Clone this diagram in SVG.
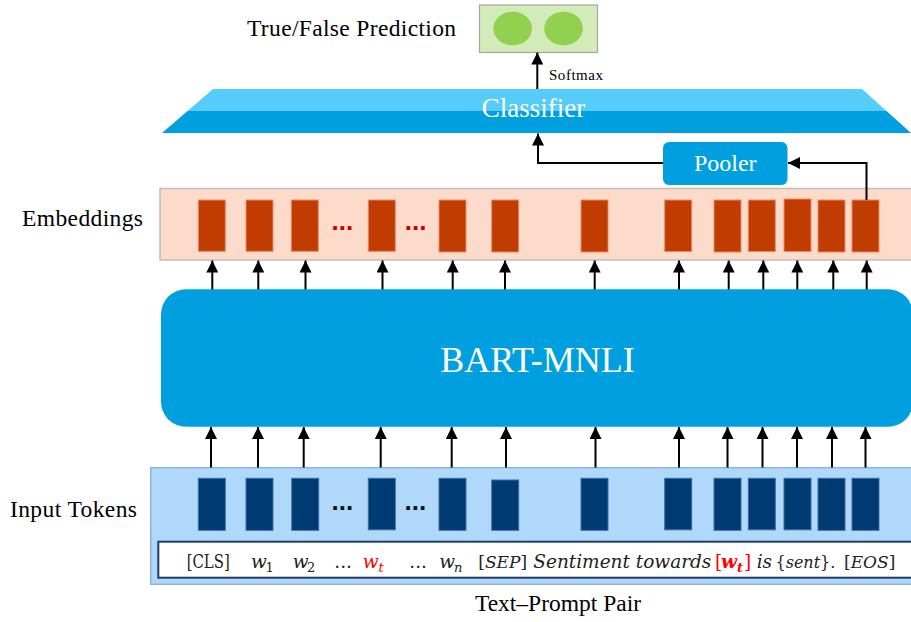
<svg xmlns="http://www.w3.org/2000/svg" width="911" height="622" viewBox="0 0 911 622">
  <style>
    .lbl { font-family: "Liberation Serif", "Times New Roman", serif; font-size: 23.5px; fill: #000; }
    .wlbl { font-family: "Liberation Serif", "Times New Roman", serif; fill: #fff; }
    .emb { fill: #C03C00; stroke: #E98A68; stroke-width: 1; }
    .tok { fill: #003A72; stroke: #3A6EA5; stroke-width: 1; }
    .conn { stroke: #000; stroke-width: 2; fill: none; }
    .math { font-family: "DejaVu Serif", "Liberation Serif", serif; font-size: 18.5px; fill: #222; }
    .sm { font-size: 17px; }
    .xs { font-size: 16px; }
    .it { font-style: italic; }
    .sub { font-size: 13px; }
    .red { fill: #FF0000; }
    .dotsr { font-family: "Liberation Sans", Arial, sans-serif; font-weight: bold; font-size: 26px; fill: #C00000; }
    .dotsk { font-family: "Liberation Sans", Arial, sans-serif; font-weight: bold; font-size: 26px; fill: #111; }
  </style>
  <defs>
    <marker id="ah" markerWidth="12" markerHeight="12" refX="12" refY="6" orient="auto" markerUnits="userSpaceOnUse">
      <path d="M0,0 L12,6 L0,12 z" fill="#000"/>
    </marker>
  </defs>

  <rect width="911" height="622" fill="#fff"/>

  <!-- output layer -->
  <g id="prediction">
    <rect x="479.5" y="5" width="118" height="47.5" fill="#D3EBB8" stroke="#A6A6A6" stroke-width="1.2"/>
    <ellipse cx="512.7" cy="28.5" rx="19.3" ry="16.8" fill="#92D050"/>
    <ellipse cx="563.5" cy="28.5" rx="19.3" ry="16.8" fill="#92D050"/>
  </g>
  <text class="lbl" x="247" y="35.5" textLength="209">True/False Prediction</text>

  <!-- classifier head -->
  <g id="classifier">
    <polygon points="213,89 862,89 886.5,111 187.5,111" fill="#56CCFA"/>
    <polygon points="187.5,111 886.5,111 911,133 162,133" fill="#009FDF"/>
    <text class="wlbl" x="533.4" y="116.7" font-size="27" text-anchor="middle">Classifier</text>
  </g>

  <!-- pooler -->
  <g id="pooler">
    <rect x="663" y="142" width="124.5" height="43" rx="6" fill="#00A0E0"/>
    <text class="wlbl" x="725.3" y="171" font-size="24" text-anchor="middle">Pooler</text>
  </g>

  <!-- embeddings layer -->
  <g id="embeddings">
    <rect x="160" y="188.5" width="760" height="71.5" fill="#FDDBCB" stroke="#BFBFBF" stroke-width="1.5"/>
    <rect class="emb" x="198.3" y="200" width="27" height="51.3"/>
    <rect class="emb" x="246" y="200" width="27" height="51.3"/>
    <rect class="emb" x="291.3" y="200" width="27" height="51.3"/>
    <rect class="emb" x="368.3" y="200" width="27" height="51.3"/>
    <rect class="emb" x="439" y="200" width="27" height="52"/>
    <rect class="emb" x="491.7" y="200" width="27" height="52"/>
    <rect class="emb" x="581" y="200" width="27" height="52"/>
    <rect class="emb" x="664.7" y="200" width="27" height="51.5"/>
    <rect class="emb" x="714" y="200" width="27" height="52"/>
    <rect class="emb" x="748.3" y="200" width="27" height="51.5"/>
    <rect class="emb" x="784" y="199" width="27" height="52.5"/>
    <rect class="emb" x="818" y="200" width="27" height="52"/>
    <rect class="emb" x="852" y="200" width="27" height="52"/>
    <text class="dotsr" x="331.5" y="229.5">...</text>
    <text class="dotsr" x="404.8" y="229.5">...</text>
  </g>
  <text class="lbl" x="22" y="226" textLength="121">Embeddings</text>

  <!-- encoder -->
  <g id="bart">
    <rect x="161" y="289.3" width="752" height="137.4" rx="25" fill="#00A0E0"/>
    <text class="wlbl" x="537.5" y="372" font-size="36" text-anchor="middle">BART-MNLI</text>
  </g>

  <!-- input layer -->
  <g id="input-tokens">
    <rect x="150.7" y="467.7" width="770" height="116.6" fill="#B0D8FA" stroke="#90B4DC" stroke-width="1.5"/>
    <rect class="tok" x="198.3" y="478.3" width="27" height="52"/>
    <rect class="tok" x="246" y="478.3" width="27" height="52"/>
    <rect class="tok" x="291.7" y="478.3" width="27" height="52"/>
    <rect class="tok" x="368.3" y="478.3" width="27" height="51.5"/>
    <rect class="tok" x="439" y="478.3" width="27" height="52"/>
    <rect class="tok" x="491.7" y="480" width="27" height="50.3"/>
    <rect class="tok" x="581" y="478.3" width="27" height="52"/>
    <rect class="tok" x="664.7" y="478.3" width="27" height="51.5"/>
    <rect class="tok" x="714" y="478.3" width="27" height="52"/>
    <rect class="tok" x="748.3" y="478.3" width="27" height="51.5"/>
    <rect class="tok" x="784" y="478.3" width="27" height="51.5"/>
    <rect class="tok" x="818" y="478.3" width="27" height="52"/>
    <rect class="tok" x="852" y="478.3" width="27" height="52"/>
    <text class="dotsk" x="331.5" y="510">...</text>
    <text class="dotsk" x="404.5" y="510">...</text>
  </g>
  <text class="lbl" x="10" y="517" textLength="127">Input Tokens</text>

  <!-- text-prompt sequence -->
  <g id="sequence">
    <rect x="158.3" y="541.7" width="760" height="36" fill="#fff" stroke="#1F3F66" stroke-width="2"/>
    <text class="math" x="186.7" y="567.5" textLength="43" lengthAdjust="spacingAndGlyphs">[CLS]</text>
    <text class="math it" x="251" y="567.5">w</text>
    <text class="math sub" x="265.5" y="571.5">1</text>
    <text class="math it" x="292.7" y="567.5">w</text>
    <text class="math sub" x="307" y="571.5">2</text>
    <text class="math" x="334.3" y="567.5">...</text>
    <text class="math it red" x="362.7" y="567.5">w</text>
    <text class="math it sub red" x="378.5" y="571.5">t</text>
    <text class="math" x="409.3" y="567.5">...</text>
    <text class="math it" x="439.3" y="567.5">w</text>
    <text class="math it sub" x="454" y="571.5">n</text>
    <text class="math sm" x="478.3" y="567.5">[<tspan class="it">SEP</tspan>]</text>
    <text class="math it" x="533.3" y="567.5" textLength="178">Sentiment towards</text>
    <text class="math red" x="715" y="567.5">[</text>
    <text class="math it red" x="721" y="567.5" font-weight="bold">w</text>
    <text class="math it sub red" x="737" y="571.5" font-weight="bold">t</text>
    <text class="math red" x="744" y="567.5">]</text>
    <text class="math it" x="756.7" y="567.5">is</text>
    <text class="math xs" x="775.5" y="567.5">{<tspan class="it">sent</tspan>}.</text>
    <text class="math sm" x="844" y="567.5">[<tspan class="it">EOS</tspan>]</text>
  </g>
  <text class="lbl" x="558" y="611" text-anchor="middle">Text–Prompt Pair</text>

  <!-- connectors -->
  <g id="connectors">
    <line class="conn" x1="537.3" y1="89" x2="537.3" y2="52.5" marker-end="url(#ah)"/>
    <path class="conn" d="M663,163 H538 V133.5" marker-end="url(#ah)"/>
    <path class="conn" d="M866.5,200 V163 H788" marker-end="url(#ah)"/>

    <line class="conn" x1="212.3" y1="289.5" x2="212.3" y2="260.5" marker-end="url(#ah)"/>
    <line class="conn" x1="258.3" y1="289.5" x2="258.3" y2="260.5" marker-end="url(#ah)"/>
    <line class="conn" x1="305.5" y1="289.5" x2="305.5" y2="260.5" marker-end="url(#ah)"/>
    <line class="conn" x1="382.5" y1="289.5" x2="382.5" y2="260.5" marker-end="url(#ah)"/>
    <line class="conn" x1="452.7" y1="289.5" x2="452.7" y2="260.5" marker-end="url(#ah)"/>
    <line class="conn" x1="505" y1="289.5" x2="505" y2="260.5" marker-end="url(#ah)"/>
    <line class="conn" x1="594.7" y1="289.5" x2="594.7" y2="260.5" marker-end="url(#ah)"/>
    <line class="conn" x1="679" y1="289.5" x2="679" y2="260.5" marker-end="url(#ah)"/>
    <line class="conn" x1="728.7" y1="289.5" x2="728.7" y2="260.5" marker-end="url(#ah)"/>
    <line class="conn" x1="763.3" y1="289.5" x2="763.3" y2="260.5" marker-end="url(#ah)"/>
    <line class="conn" x1="797.3" y1="289.5" x2="797.3" y2="260.5" marker-end="url(#ah)"/>
    <line class="conn" x1="833.3" y1="289.5" x2="833.3" y2="260.5" marker-end="url(#ah)"/>
    <line class="conn" x1="866.7" y1="289.5" x2="866.7" y2="260.5" marker-end="url(#ah)"/>

    <line class="conn" x1="211" y1="467.5" x2="211" y2="427" marker-end="url(#ah)"/>
    <line class="conn" x1="258" y1="467.5" x2="258" y2="427" marker-end="url(#ah)"/>
    <line class="conn" x1="303.7" y1="467.5" x2="303.7" y2="427" marker-end="url(#ah)"/>
    <line class="conn" x1="380.7" y1="467.5" x2="380.7" y2="427" marker-end="url(#ah)"/>
    <line class="conn" x1="451.7" y1="467.5" x2="451.7" y2="427" marker-end="url(#ah)"/>
    <line class="conn" x1="506" y1="467.5" x2="506" y2="427" marker-end="url(#ah)"/>
    <line class="conn" x1="595.5" y1="467.5" x2="595.5" y2="427" marker-end="url(#ah)"/>
    <line class="conn" x1="679" y1="467.5" x2="679" y2="427" marker-end="url(#ah)"/>
    <line class="conn" x1="727.5" y1="467.5" x2="727.5" y2="427" marker-end="url(#ah)"/>
    <line class="conn" x1="762.5" y1="467.5" x2="762.5" y2="427" marker-end="url(#ah)"/>
    <line class="conn" x1="797" y1="467.5" x2="797" y2="427" marker-end="url(#ah)"/>
    <line class="conn" x1="832" y1="467.5" x2="832" y2="427" marker-end="url(#ah)"/>
    <line class="conn" x1="865.5" y1="467.5" x2="865.5" y2="427" marker-end="url(#ah)"/>
  </g>
  <text x="549" y="80" font-family="Liberation Serif, Times New Roman, serif" font-size="15" fill="#000" textLength="54">Softmax</text>
</svg>
